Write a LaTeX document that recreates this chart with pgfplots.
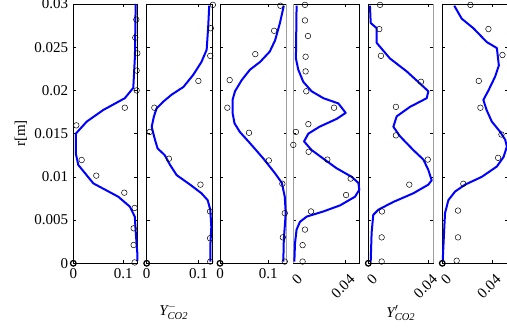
\documentclass[border=0pt]{standalone}
\usepackage{fontspec}
\setmainfont{Liberation Serif}
\usepackage{amsmath}
\usepackage{pgfplots}
\pgfplotsset{compat=1.18}
\tikzset{grayedge/.style={gray!75, line width=1.1pt}}
\pgfplotsset{
 panel/.style={scale only axis, height=259.3pt, ymin=0, ymax=0.03, anchor=south west, clip=false,
   tick align=inside, major tick length=3pt,
   scaled x ticks=false, scaled y ticks=false,
   axis line style={line width=0.6pt},
   every tick/.style={black, line width=0.5pt},
   ytick={0,0.005,0.01,0.015,0.02,0.025,0.03}, yticklabels={},
   tick label style={font=\fontsize{15}{18}\selectfont},
   label style={font=\fontsize{15}{18}\selectfont},
   /pgf/number format/assume math mode=true},
 rot/.style={xtick={0,0.04}, xticklabels={0,0.04},
   xticklabel style={rotate=45, anchor=north east, yshift=-4pt}},
 curve/.style={color={rgb,255:red,0;green,0;blue,255}, line width=2pt, line join=round},
 circ/.style={only marks, mark=o, mark size=2.8pt, black, line width=0.5pt},
 zero/.style={only marks, mark=o, mark size=2.8pt, black, line width=1.3pt}
}
\begin{document}
\fontsize{15}{18}\selectfont
\begin{tikzpicture}
\useasboundingbox (0,0) rectangle (507pt,331pt);
% Panel 1
\begin{axis}[panel, at={(73.3pt,67.7pt)}, width=64pt, xmin=0, xmax=0.128,
  xtick={0,0.1}, xticklabels={0,0.1},
  yticklabels={0,0.005,0.01,0.015,0.02,0.025,0.03},
  ylabel={r[m]}, ylabel style={at={(axis description cs:-0.817,0.5)}, anchor=center}]
\addplot[curve] coordinates {(0.1247,0.030) (0.1233,0.024) (0.120,0.0203) (0.103,0.0191) (0.060,0.01774) (0.027,0.0164) (0.005,0.015) (0.005,0.0127) (0.010,0.01138) (0.040,0.00925) (0.090,0.0077) (0.113,0.00656) (0.123,0.0054) (0.125,0.0035) (0.128,0.0012) (0.128,0.0003)};
\addplot[circ] coordinates {(0.126,0.0282) (0.124,0.0261) (0.128,0.0243) (0.1267,0.0223) (0.1267,0.0200) (0.103,0.0180) (0.006,0.01596) (0.0167,0.01195) (0.046,0.01014) (0.102,0.00817) (0.1227,0.0064) (0.1207,0.00405) (0.1207,0.00212) (0.1227,0.0001)};
\addplot[zero] coordinates {(0,0)};
\end{axis}
% Panel 2
\begin{axis}[panel, at={(146.7pt,67.7pt)}, width=66pt, xmin=0, xmax=0.1277,
  xtick={0,0.1}, xticklabels={0,0.1},
  xlabel={$\textit{Y}^{-}_{\textit{CO2}}$}, xlabel style={at={(axis description cs:0.5,0)}, anchor=center, yshift=-48pt, xshift=-6pt}]
\addplot[curve] coordinates {(0.121,0.0298) (0.119,0.0274) (0.116,0.0247) (0.106,0.0233) (0.090,0.0218) (0.071,0.0204) (0.048,0.0195) (0.032,0.0187) (0.019,0.0179) (0.014,0.0170) (0.0097,0.0158) (0.013,0.0150) (0.016,0.0143) (0.021,0.0133) (0.035,0.0125) (0.045,0.0114) (0.058,0.0102) (0.084,0.0091) (0.106,0.0081) (0.118,0.0073) (0.123,0.0062) (0.125,0.0042) (0.123,0.0019) (0.123,0.0002)};
\addplot[circ] coordinates {(0.128,0.0299) (0.124,0.0272) (0.123,0.0240) (0.100,0.0211) (0.0148,0.0180) (0.0058,0.0152) (0.043,0.0121) (0.104,0.0091) (0.1226,0.0060) (0.1226,0.0029) (0.123,0.0002)};
\addplot[zero] coordinates {(0,0)};
\end{axis}
% Panel 3
\begin{axis}[panel, at={(220pt,67.7pt)}, width=66.7pt, xmin=0, xmax=0.138,
  xtick={0,0.1}, xticklabels={0,0.1}]
\draw[grayedge] (rel axis cs:1,0) -- (rel axis cs:1,1);
\addplot[curve] coordinates {(0.132,0.0298) (0.124,0.0278) (0.114,0.0258) (0.103,0.0245) (0.083,0.0233) (0.062,0.0224) (0.045,0.0212) (0.031,0.0199) (0.026,0.0189) (0.026,0.0174) (0.030,0.0162) (0.041,0.0152) (0.062,0.0139) (0.090,0.0121) (0.114,0.0104) (0.128,0.0093) (0.134,0.0077) (0.136,0.0058) (0.132,0.0027) (0.131,0.0002)};
\addplot[circ] coordinates {(0.125,0.0298) (0.112,0.0269) (0.073,0.0242) (0.020,0.0212) (0.0152,0.0180) (0.060,0.0151) (0.101,0.0119) (0.129,0.0092) (0.134,0.0058) (0.130,0.0030) (0.134,0.0002)};
\addplot[zero] coordinates {(0,0)};
\end{axis}
% Panel 4
\begin{axis}[panel, rot, at={(293.3pt,67.7pt)}, width=66pt, xmin=0, xmax=0.0504]
\draw[grayedge] (rel axis cs:0,0) -- (rel axis cs:0,1);
\addplot[curve] coordinates {(0.0025,0.0298) (0.002,0.0237) (0.0038,0.0224) (0.0076,0.0210) (0.014,0.0199) (0.023,0.0191) (0.0344,0.0185) (0.040,0.0174) (0.033,0.0167) (0.020,0.0158) (0.0115,0.0150) (0.0082,0.0141) (0.014,0.0131) (0.023,0.0121) (0.033,0.0110) (0.0446,0.0100) (0.0497,0.0093) (0.0504,0.0085) (0.0471,0.0077) (0.0357,0.0067) (0.023,0.0060) (0.0102,0.0054) (0.0051,0.0048) (0.0025,0.0039) (0.0013,0.0023) (0.0008,0.0002)};
\addplot[circ] coordinates {(0.0089,0.0299) (0.0089,0.0281) (0.0112,0.0263) (0.0094,0.0239) (0.0094,0.0222) (0.0099,0.0199) (0.0311,0.0180) (0.0115,0.0161) (0.002,0.0152) (0.0,0.0137) (0.0117,0.0129) (0.026,0.0120) (0.0438,0.0098) (0.0403,0.0079) (0.0135,0.0060) (0.0089,0.0039) (0.0071,0.0021) (0.0071,0.0002)};
\end{axis}
% Panel 5
\begin{axis}[panel, rot, at={(368.3pt,67.7pt)}, width=65pt, xmin=0, xmax=0.0433,
  xlabel={$\textit{Y}'_{\textit{CO2}}$}, xlabel style={at={(axis description cs:0.5,0)}, anchor=center, yshift=-50pt}]
\draw[grayedge] (rel axis cs:1,0) -- (rel axis cs:1,1);
\addplot[curve] coordinates {(0.0011,0.0298) (0.0016,0.0278) (0.0056,0.0272) (0.0056,0.0255) (0.0144,0.0237) (0.0256,0.0222) (0.0344,0.0208) (0.040,0.0199) (0.0389,0.0191) (0.0278,0.0181) (0.0189,0.0170) (0.0167,0.0158) (0.0211,0.0147) (0.030,0.0131) (0.0367,0.0120) (0.040,0.0108) (0.0422,0.0096) (0.040,0.0091) (0.030,0.0081) (0.0167,0.0071) (0.0067,0.0062) (0.0033,0.0056) (0.0022,0.0035) (0.0016,0.0002)};
\addplot[circ] coordinates {(0.0078,0.0299) (0.0073,0.0271) (0.0084,0.0240) (0.0351,0.0210) (0.0184,0.0181) (0.0184,0.0148) (0.0396,0.0120) (0.0273,0.0091) (0.0091,0.0060) (0.0089,0.0030) (0.0089,0.0002)};
\addplot[zero] coordinates {(0,0)};
\end{axis}
% Panel 6
\begin{axis}[panel, rot, at={(442.3pt,67.7pt)}, width=66.2pt, xmin=0, xmax=0.0535]
\addplot[curve] coordinates {(0.0097,0.0298) (0.0157,0.0283) (0.0251,0.0272) (0.0359,0.0256) (0.0441,0.0249) (0.0457,0.0229) (0.0427,0.0216) (0.0373,0.0200) (0.0332,0.0189) (0.0359,0.0177) (0.040,0.0164) (0.0468,0.0152) (0.0508,0.0143) (0.0522,0.0135) (0.0495,0.0123) (0.0441,0.0112) (0.0319,0.0100) (0.0184,0.0091) (0.0103,0.0083) (0.0049,0.0073) (0.0022,0.0058) (0.0014,0.0035) (0.0003,0.0002)};
\addplot[circ] coordinates {(0.0227,0.0299) (0.0373,0.0271) (0.0486,0.0241) (0.0295,0.0211) (0.0308,0.0180) (0.0478,0.0149) (0.0451,0.0122) (0.0170,0.0092) (0.0127,0.0061) (0.0127,0.0030) (0.0116,0.0003)};
\addplot[zero] coordinates {(0,0)};
\end{axis}
\end{tikzpicture}
\end{document}
